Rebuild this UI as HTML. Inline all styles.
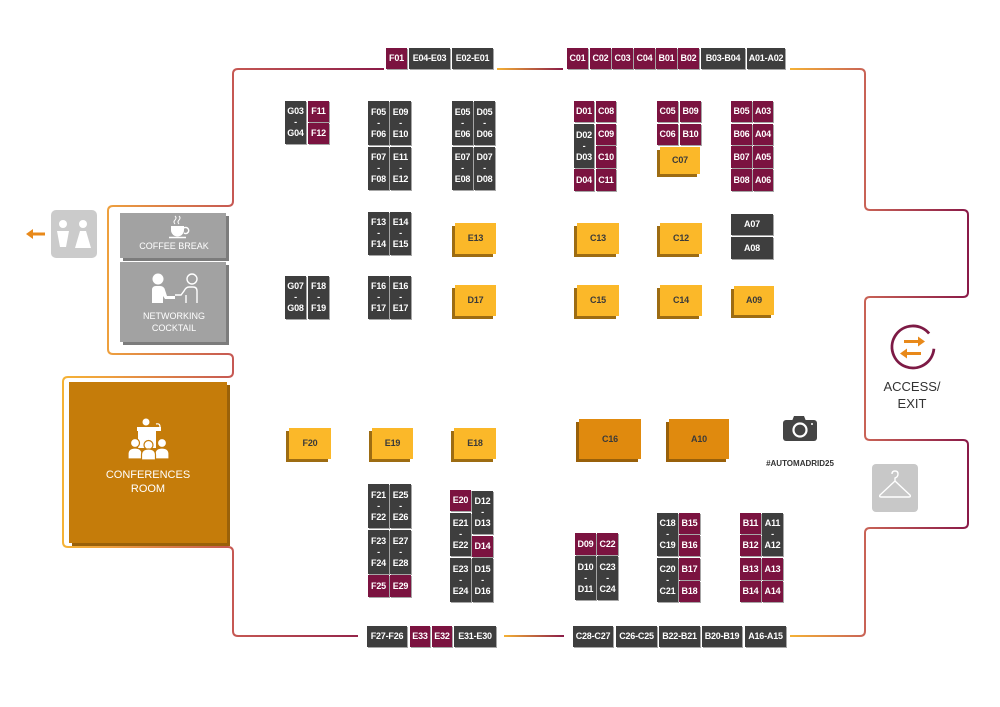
<!DOCTYPE html>
<html><head><meta charset="utf-8">
<style>
*{margin:0;padding:0;box-sizing:border-box}
html,body{width:1000px;height:707px;background:#fff;overflow:hidden;position:relative;font-family:"Liberation Sans",Arial,sans-serif}
.b{position:absolute;display:flex;flex-direction:column;align-items:center;justify-content:center;color:#fff;font-weight:bold;font-size:9px;line-height:11px;box-shadow:1px 1px 0 rgba(0,0,0,.35);letter-spacing:-0.2px}
.d{background:#3e3e3e}
.m{background:#7b1340}
.y{background:#fbb829;color:#3a3a3a;box-shadow:-3px 3px 0 #9d6c12}
.o{background:#e08a0e;color:#3a3a3a;box-shadow:-3px 3px 0 #98600a}
.t{position:absolute;color:#fff;text-align:center}
svg{position:absolute;left:0;top:0}
</style></head><body>
<svg width="1000" height="707" viewBox="0 0 1000 707">
<defs>
<linearGradient id="g1" gradientUnits="userSpaceOnUse" x1="63" y1="0" x2="384" y2="0">
<stop offset="0" stop-color="#f5b235"/><stop offset="0.14" stop-color="#eea03e"/><stop offset="0.53" stop-color="#c65853"/><stop offset="1" stop-color="#8a1a48"/></linearGradient>
<linearGradient id="g2" gradientUnits="userSpaceOnUse" x1="497" y1="0" x2="563" y2="0">
<stop offset="0" stop-color="#f5b235"/><stop offset="1" stop-color="#8a1a48"/></linearGradient>
<linearGradient id="g4" gradientUnits="userSpaceOnUse" x1="504" y1="0" x2="564" y2="0">
<stop offset="0" stop-color="#f5b235"/><stop offset="1" stop-color="#8a1a48"/></linearGradient>
<linearGradient id="g3" gradientUnits="userSpaceOnUse" x1="790" y1="0" x2="968" y2="0">
<stop offset="0" stop-color="#f5b235"/><stop offset="0.42" stop-color="#c96356"/><stop offset="1" stop-color="#8a1a48"/></linearGradient>
</defs>
<g fill="none" stroke-width="2">
<path stroke="url(#g1)" d="M384,69 H238 Q233,69 233,74 V201 Q233,206 228,206 H113 Q108,206 108,211 V349 Q108,354 113,354 H228 Q233,354 233,359 V372 Q233,377 228,377 H68 Q63,377 63,382 V542 Q63,547 68,547 H228 Q233,547 233,552 V631 Q233,636 238,636 H358"/>
<path stroke="url(#g2)" d="M497,69 H563"/>
<path stroke="url(#g4)" d="M504,636 H564"/>
<path stroke="url(#g3)" d="M790,69 H860 Q865,69 865,74 V205 Q865,210 870,210 H963 Q968,210 968,215 V292 Q968,297 963,297 H870 Q865,297 865,302 V435 Q865,440 870,440 H963 Q968,440 968,445 V523 Q968,528 963,528 H870 Q865,528 865,533 V631 Q865,636 860,636 H790"/>
</g>
<!-- restroom -->
<rect x="51" y="210" width="46" height="48" rx="5" fill="#cbcbcb"/>
<circle cx="63" cy="224" r="4" fill="#fff"/>
<path d="M57,231 H69 L66,247 H60 Z" fill="#fff"/>
<circle cx="83" cy="224" r="4" fill="#fff"/>
<path d="M80,231 H86 L91,248 H75 Z" fill="#fff"/>
<!-- arrow left -->
<path d="M45,234 H31" stroke="#e8891a" stroke-width="3"/>
<path d="M26,234 L33,229 L33,239 Z" fill="#e8891a"/>
<!-- coffee box -->
<rect x="123" y="216" width="106" height="45" fill="#7c7c7c"/>
<rect x="120" y="213" width="106" height="45" fill="#a2a2a2"/>
<path d="M171,226 h13 v4 a6.5,6.5 0 0 1 -13,0 z" fill="#fff"/>
<path d="M184,228 a3,3 0 1 1 0,5" stroke="#fff" stroke-width="1.5" fill="none"/>
<path d="M169,237.5 h17" stroke="#fff" stroke-width="1.5"/>
<path d="M175,224 q-2,-2 0,-4 q2,-2 0,-4 M179,224 q-2,-2 0,-4 q2,-2 0,-4" stroke="#fff" stroke-width="1" fill="none"/>
<!-- networking box -->
<rect x="123" y="265" width="106" height="80" fill="#7c7c7c"/>
<rect x="120" y="262" width="106" height="80" fill="#a2a2a2"/>
<circle cx="158" cy="279" r="5.5" fill="#fff"/>
<path d="M152,303 V290 q0,-4 4,-4 h4 q4,0 5,4 l2,6 h8 v3 h-10 l-2,-3 v7 z" fill="#fff"/>
<circle cx="192" cy="279" r="5" fill="none" stroke="#fff" stroke-width="1.4"/>
<path d="M197,303 V291 q0,-4 -4,-4 h-4 q-3,0 -5,4 l-3,4 h-6 M186,303 v-8" fill="none" stroke="#fff" stroke-width="1.4"/>
<!-- conference room -->
<rect x="72" y="385" width="158" height="161" fill="#9a6109"/>
<rect x="69" y="382" width="158" height="161" fill="#c57c0a"/>
<circle cx="146" cy="422" r="3.5" fill="#fff"/>
<rect x="137" y="427" width="24" height="4" fill="#fff"/>
<path d="M138,431 h18 v17 h-18 z" fill="#fff"/>
<path d="M156,424 q4,-1 4,3 v4" stroke="#fff" stroke-width="1.2" fill="none"/>
<g fill="#fff" stroke="#c57c0a" stroke-width="1.2">
<circle cx="135" cy="443" r="4.5"/><path d="M128,459 v-5 q0,-6 7,-6 q7,0 7,6 v5 z"/>
<circle cx="162" cy="443" r="4.5"/><path d="M155,459 v-5 q0,-6 7,-6 q7,0 7,6 v5 z"/>
<circle cx="148.5" cy="445" r="4.5"/><path d="M141.5,460 v-5 q0,-6 7,-6 q7,0 7,6 v5 z"/>
</g>
<!-- camera -->
<rect x="783" y="420" width="34" height="21" rx="3" fill="#444"/>
<path d="M792,421 l2,-5 h10 l2,5 z" fill="#444"/>
<circle cx="800" cy="430" r="6.5" fill="none" stroke="#fff" stroke-width="2.2"/>
<circle cx="812" cy="424" r="1" fill="#fff"/>
<!-- access -->
<path d="M929.1,333.5 A21,21 0 1 0 933.9,348.8" fill="none" stroke="#7d1a45" stroke-width="2.8"/>
<path d="M904,341.5 H920" stroke="#e8891a" stroke-width="3"/>
<path d="M925,341.5 L918,336.5 L918,346.5 Z" fill="#e8891a"/>
<path d="M921,353.5 H905" stroke="#e8891a" stroke-width="3"/>
<path d="M900,353.5 L907,348.5 L907,358.5 Z" fill="#e8891a"/>
<!-- hanger -->
<rect x="872" y="464" width="46" height="48" rx="4" fill="#c8c8c8"/>
<path d="M895,481 v-3 q3,-1 3,-4 q0,-3 -3,-3 q-3,0 -3,3 M895,481 L880,495 q-1,2 1,2 h28 q2,0 1,-2 z" fill="none" stroke="#fff" stroke-width="1.4"/>
<text x="912" y="391" font-size="13" fill="#333" text-anchor="middle" font-family="Liberation Sans, sans-serif">ACCESS/</text>
<text x="912" y="408" font-size="13" fill="#333" text-anchor="middle" font-family="Liberation Sans, sans-serif">EXIT</text>
<text x="800" y="466" font-size="8" font-weight="bold" fill="#333" text-anchor="middle" font-family="Liberation Sans, sans-serif">#AUTOMADRID25</text>
<text x="174" y="249" font-size="9" fill="#fff" text-anchor="middle" font-family="Liberation Sans, sans-serif">COFFEE BREAK</text>
<text x="174" y="319" font-size="9" fill="#fff" text-anchor="middle" font-family="Liberation Sans, sans-serif">NETWORKING</text>
<text x="174" y="331" font-size="9" fill="#fff" text-anchor="middle" font-family="Liberation Sans, sans-serif">COCKTAIL</text>
<text x="148" y="478" font-size="11" fill="#fff" text-anchor="middle" font-family="Liberation Sans, sans-serif">CONFERENCES</text>
<text x="148" y="492" font-size="11" fill="#fff" text-anchor="middle" font-family="Liberation Sans, sans-serif">ROOM</text>
</svg>

<!-- top bar -->
<div class="b m" style="left:386px;top:48px;width:21px;height:21px">F01</div>
<div class="b d" style="left:409px;top:48px;width:41px;height:21px">E04-E03</div>
<div class="b d" style="left:452px;top:48px;width:41px;height:21px">E02-E01</div>
<div class="b m" style="left:567px;top:48px;width:21px;height:21px">C01</div>
<div class="b m" style="left:590px;top:48px;width:21px;height:21px">C02</div>
<div class="b m" style="left:612px;top:48px;width:21px;height:21px">C03</div>
<div class="b m" style="left:634px;top:48px;width:21px;height:21px">C04</div>
<div class="b m" style="left:656px;top:48px;width:21px;height:21px">B01</div>
<div class="b m" style="left:678px;top:48px;width:21px;height:21px">B02</div>
<div class="b d" style="left:701px;top:48px;width:44px;height:21px">B03-B04</div>
<div class="b d" style="left:747px;top:48px;width:38px;height:21px">A01-A02</div>

<!-- left top cluster -->
<div class="b d" style="left:285px;top:101px;width:21px;height:43px"><span>G03</span><span>-</span><span>G04</span></div>
<div class="b m" style="left:308px;top:101px;width:21px;height:21px">F11</div>
<div class="b m" style="left:308px;top:123px;width:21px;height:21px">F12</div>
<div class="b d" style="left:368px;top:101px;width:21px;height:44px"><span>F05</span><span>-</span><span>F06</span></div>
<div class="b d" style="left:390px;top:101px;width:21px;height:44px"><span>E09</span><span>-</span><span>E10</span></div>
<div class="b d" style="left:368px;top:147px;width:21px;height:43px"><span>F07</span><span>-</span><span>F08</span></div>
<div class="b d" style="left:390px;top:147px;width:21px;height:43px"><span>E11</span><span>-</span><span>E12</span></div>
<div class="b d" style="left:452px;top:101px;width:21px;height:44px"><span>E05</span><span>-</span><span>E06</span></div>
<div class="b d" style="left:474px;top:101px;width:21px;height:44px"><span>D05</span><span>-</span><span>D06</span></div>
<div class="b d" style="left:452px;top:147px;width:21px;height:43px"><span>E07</span><span>-</span><span>E08</span></div>
<div class="b d" style="left:474px;top:147px;width:21px;height:43px"><span>D07</span><span>-</span><span>D08</span></div>

<!-- middle top cluster -->
<div class="b m" style="left:574px;top:101px;width:20px;height:21px">D01</div>
<div class="b m" style="left:596px;top:101px;width:20px;height:21px">C08</div>
<div class="b d" style="left:574px;top:124px;width:20px;height:44px"><span>D02</span><span>-</span><span>D03</span></div>
<div class="b m" style="left:596px;top:124px;width:20px;height:21px">C09</div>
<div class="b m" style="left:596px;top:146px;width:20px;height:22px">C10</div>
<div class="b m" style="left:574px;top:169px;width:20px;height:22px">D04</div>
<div class="b m" style="left:596px;top:169px;width:20px;height:22px">C11</div>
<div class="b m" style="left:657px;top:101px;width:21px;height:21px">C05</div>
<div class="b m" style="left:680px;top:101px;width:21px;height:21px">B09</div>
<div class="b m" style="left:657px;top:124px;width:21px;height:21px">C06</div>
<div class="b m" style="left:680px;top:124px;width:21px;height:21px">B10</div>
<div class="b y" style="left:660px;top:147px;width:40px;height:27px">C07</div>
<div class="b m" style="left:731px;top:101px;width:21px;height:21px">B05</div>
<div class="b m" style="left:753px;top:101px;width:20px;height:21px">A03</div>
<div class="b m" style="left:731px;top:124px;width:21px;height:21px">B06</div>
<div class="b m" style="left:753px;top:124px;width:20px;height:21px">A04</div>
<div class="b m" style="left:731px;top:146px;width:21px;height:22px">B07</div>
<div class="b m" style="left:753px;top:146px;width:20px;height:22px">A05</div>
<div class="b m" style="left:731px;top:169px;width:21px;height:22px">B08</div>
<div class="b m" style="left:753px;top:169px;width:20px;height:22px">A06</div>

<!-- row 2 -->
<div class="b d" style="left:368px;top:212px;width:21px;height:43px"><span>F13</span><span>-</span><span>F14</span></div>
<div class="b d" style="left:390px;top:212px;width:21px;height:43px"><span>E14</span><span>-</span><span>E15</span></div>
<div class="b y" style="left:455px;top:223px;width:41px;height:31px">E13</div>
<div class="b y" style="left:577px;top:223px;width:42px;height:31px">C13</div>
<div class="b y" style="left:660px;top:223px;width:42px;height:31px">C12</div>
<div class="b d" style="left:731px;top:214px;width:42px;height:21px">A07</div>
<div class="b d" style="left:731px;top:237px;width:42px;height:22px">A08</div>

<!-- row 3 -->
<div class="b d" style="left:285px;top:276px;width:21px;height:43px"><span>G07</span><span>-</span><span>G08</span></div>
<div class="b d" style="left:308px;top:276px;width:21px;height:43px"><span>F18</span><span>-</span><span>F19</span></div>
<div class="b d" style="left:368px;top:276px;width:21px;height:43px"><span>F16</span><span>-</span><span>F17</span></div>
<div class="b d" style="left:390px;top:276px;width:21px;height:43px"><span>E16</span><span>-</span><span>E17</span></div>
<div class="b y" style="left:455px;top:285px;width:41px;height:31px">D17</div>
<div class="b y" style="left:577px;top:285px;width:42px;height:31px">C15</div>
<div class="b y" style="left:660px;top:285px;width:42px;height:31px">C14</div>
<div class="b y" style="left:734px;top:286px;width:40px;height:29px">A09</div>

<!-- row 4 -->
<div class="b y" style="left:289px;top:428px;width:42px;height:31px">F20</div>
<div class="b y" style="left:372px;top:428px;width:41px;height:31px">E19</div>
<div class="b y" style="left:454px;top:428px;width:42px;height:31px">E18</div>
<div class="b o" style="left:579px;top:419px;width:62px;height:40px">C16</div>
<div class="b o" style="left:669px;top:419px;width:60px;height:40px">A10</div>

<!-- lower left -->
<div class="b d" style="left:368px;top:484px;width:21px;height:44px"><span>F21</span><span>-</span><span>F22</span></div>
<div class="b d" style="left:390px;top:484px;width:21px;height:44px"><span>E25</span><span>-</span><span>E26</span></div>
<div class="b d" style="left:368px;top:530px;width:21px;height:44px"><span>F23</span><span>-</span><span>F24</span></div>
<div class="b d" style="left:390px;top:530px;width:21px;height:44px"><span>E27</span><span>-</span><span>E28</span></div>
<div class="b m" style="left:368px;top:575px;width:21px;height:22px">F25</div>
<div class="b m" style="left:390px;top:575px;width:21px;height:22px">E29</div>
<div class="b m" style="left:450px;top:490px;width:21px;height:21px">E20</div>
<div class="b d" style="left:472px;top:491px;width:21px;height:43px"><span>D12</span><span>-</span><span>D13</span></div>
<div class="b d" style="left:450px;top:513px;width:21px;height:43px"><span>E21</span><span>-</span><span>E22</span></div>
<div class="b m" style="left:472px;top:536px;width:21px;height:21px">D14</div>
<div class="b d" style="left:450px;top:558px;width:21px;height:44px"><span>E23</span><span>-</span><span>E24</span></div>
<div class="b d" style="left:472px;top:558px;width:21px;height:44px"><span>D15</span><span>-</span><span>D16</span></div>

<!-- lower middle -->
<div class="b m" style="left:575px;top:533px;width:21px;height:22px">D09</div>
<div class="b m" style="left:597px;top:533px;width:21px;height:22px">C22</div>
<div class="b d" style="left:575px;top:556px;width:21px;height:44px"><span>D10</span><span>-</span><span>D11</span></div>
<div class="b d" style="left:597px;top:556px;width:21px;height:44px"><span>C23</span><span>-</span><span>C24</span></div>
<div class="b d" style="left:657px;top:513px;width:21px;height:43px"><span>C18</span><span>-</span><span>C19</span></div>
<div class="b m" style="left:679px;top:513px;width:21px;height:21px">B15</div>
<div class="b m" style="left:679px;top:535px;width:21px;height:21px">B16</div>
<div class="b d" style="left:657px;top:558px;width:21px;height:44px"><span>C20</span><span>-</span><span>C21</span></div>
<div class="b m" style="left:679px;top:558px;width:21px;height:22px">B17</div>
<div class="b m" style="left:679px;top:581px;width:21px;height:21px">B18</div>
<div class="b m" style="left:740px;top:513px;width:21px;height:21px">B11</div>
<div class="b d" style="left:762px;top:513px;width:21px;height:43px"><span>A11</span><span>-</span><span>A12</span></div>
<div class="b m" style="left:740px;top:535px;width:21px;height:21px">B12</div>
<div class="b m" style="left:740px;top:558px;width:21px;height:22px">B13</div>
<div class="b m" style="left:762px;top:558px;width:21px;height:22px">A13</div>
<div class="b m" style="left:740px;top:581px;width:21px;height:21px">B14</div>
<div class="b m" style="left:762px;top:581px;width:21px;height:21px">A14</div>

<!-- bottom bar -->
<div class="b d" style="left:367px;top:626px;width:40px;height:21px">F27-F26</div>
<div class="b m" style="left:410px;top:626px;width:20px;height:21px">E33</div>
<div class="b m" style="left:432px;top:626px;width:20px;height:21px">E32</div>
<div class="b d" style="left:454px;top:626px;width:42px;height:21px">E31-E30</div>
<div class="b d" style="left:573px;top:626px;width:40px;height:21px">C28-C27</div>
<div class="b d" style="left:616px;top:626px;width:41px;height:21px">C26-C25</div>
<div class="b d" style="left:659px;top:626px;width:41px;height:21px">B22-B21</div>
<div class="b d" style="left:702px;top:626px;width:40px;height:21px">B20-B19</div>
<div class="b d" style="left:745px;top:626px;width:41px;height:21px">A16-A15</div>
</body></html>
